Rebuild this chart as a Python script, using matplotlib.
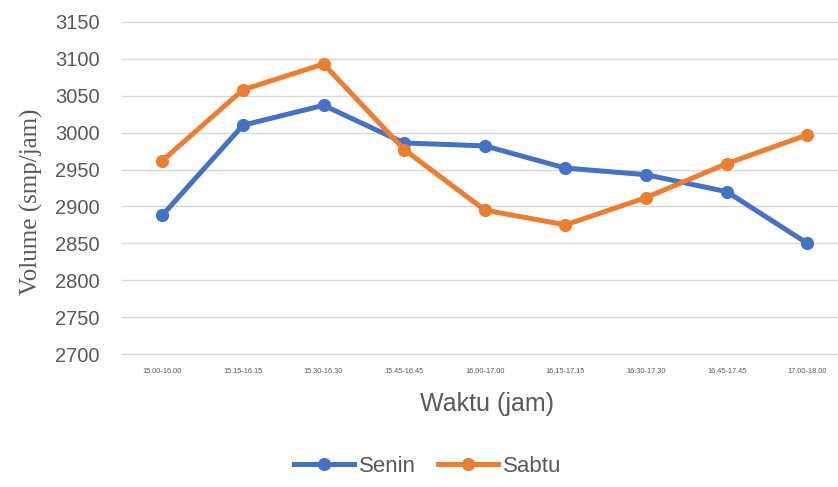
import matplotlib as mpl
import matplotlib.pyplot as plt

# data
categories = ['15.00-16.00', '15.15-16.15', '15.30-16.30', '15.45-16.45', '16.00-17.00',
              '16.15-17.15', '16.30-17.30', '16.45-17.45', '17.00-18.00']
senin = [2888, 3010, 3037, 2986, 2982, 2952, 2943, 2920, 2850]
sabtu = [2962, 3058, 3093, 2977, 2895, 2875, 2912, 2958, 2997]
yticks = [2700, 2750, 2800, 2850, 2900, 2950, 3000, 3050, 3100, 3150]

text_grey = '#595959'
mpl.rcParams['font.family'] = ['Liberation Sans', 'DejaVu Sans']

fig = plt.figure(figsize=(8.38, 4.87), dpi=100)
ax = fig.add_axes([0.1456, 0.273, 0.8544, 0.682])

x = list(range(len(categories)))
ax.plot(x, senin, color='#4472C4', linewidth=3.6, marker='o', markersize=8.5,
        label='Senin', zorder=3)
ax.plot(x, sabtu, color='#ED7D31', linewidth=3.6, marker='o', markersize=8.5,
        label='Sabtu', zorder=3)

ax.set_ylim(2700, 3150)
ax.set_xlim(-0.5, 8.38)
ax.set_yticks(yticks)
ax.set_xticks(x)
ax.set_xticklabels(categories, fontsize=5.3, color=text_grey)
ax.tick_params(axis='y', labelsize=14.5, labelcolor=text_grey, length=0, pad=16)
ax.tick_params(axis='x', length=0, pad=10)

# horizontal grid only, no box
ax.yaxis.grid(True, color='#D9D9D9', linewidth=1)
for gl in ax.get_ygridlines():
    gl.set_clip_on(False)
ax.set_axisbelow(True)
for s in ['right', 'left', 'top', 'bottom']:
    ax.spines[s].set_visible(False)

ax.set_ylabel('Volume (smp/jam)', fontsize=18, color=text_grey,
              family='Liberation Serif', va='center')
ax.yaxis.set_label_coords(-0.127, 0.458)
ax.set_xlabel('Waktu (jam)', fontsize=18, color=text_grey, va='center')
ax.xaxis.set_label_coords(0.51, -0.15)

ax.legend(loc='center', bbox_to_anchor=(0.427, -0.338), ncol=2, frameon=False,
          fontsize=16, labelcolor=text_grey, handlelength=2.7, columnspacing=1.0,
          handletextpad=0.2)

fig.savefig('out.png', dpi=100)
